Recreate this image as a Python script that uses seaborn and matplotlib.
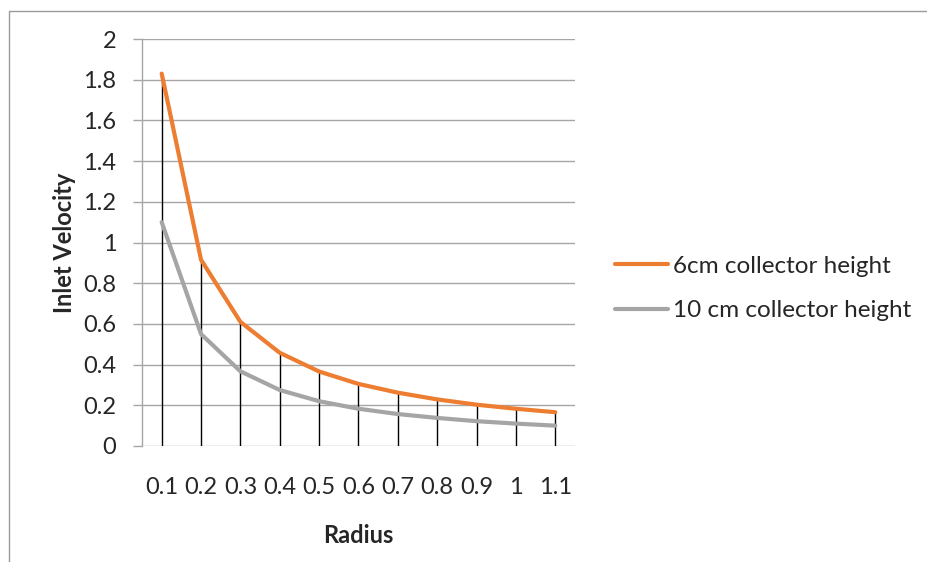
import matplotlib
matplotlib.use("Agg")
import matplotlib.pyplot as plt
import seaborn as sns
import pandas as pd
from matplotlib.patches import Rectangle

radius = [0.1, 0.2, 0.3, 0.4, 0.5, 0.6, 0.7, 0.8, 0.9, 1.0, 1.1]
radius_labels = ["0.1", "0.2", "0.3", "0.4", "0.5", "0.6", "0.7", "0.8", "0.9", "1", "1.1"]
v_6cm = [1.83, 0.915, 0.61, 0.458, 0.366, 0.305, 0.262, 0.229, 0.203, 0.183, 0.166]
v_10cm = [1.10, 0.55, 0.367, 0.275, 0.22, 0.183, 0.157, 0.138, 0.122, 0.11, 0.10]
series_names = ["6cm collector height", "10 cm collector height"]
y_ticks = [0, 0.2, 0.4, 0.6, 0.8, 1, 1.2, 1.4, 1.6, 1.8, 2]
y_tick_labels = ["0", "0.2", "0.4", "0.6", "0.8", "1", "1.2", "1.4", "1.6", "1.8", "2"]

sns.set_style("white")
plt.rcParams["font.family"] = ["Lato", "DejaVu Sans"]

df = pd.DataFrame({
    "Radius": radius * 2,
    "Inlet Velocity": v_6cm + v_10cm,
    "Series": [series_names[0]] * len(radius) + [series_names[1]] * len(radius),
})

FS = 17

fig = plt.figure(figsize=(9.27, 5.62), dpi=100)
ax = fig.add_axes([142 / 927, 1 - 446 / 562, (575 - 142) / 927, (446 - 39) / 562])

# outer chart border
fig.patches.append(Rectangle((9 / 927, -0.2), 1.2, 1 - 11 / 562 + 0.2,
                             transform=fig.transFigure, fill=False,
                             edgecolor="#9a9a9a", linewidth=1.0, clip_on=False))

for yv in y_ticks:
    ax.axhline(yv, color="#a6a6a6", linewidth=1.0, zorder=0)

ax.vlines(radius, 0, v_6cm, color="black", linewidth=1.0, zorder=1)

sns.lineplot(data=df, x="Radius", y="Inlet Velocity", hue="Series",
             palette=["#ED7D31", "#A5A5A5"], linewidth=3, ax=ax, zorder=3,
             legend=True)

ax.set_xlim(0.05, 1.15)
ax.set_ylim(0, 2)
ax.set_xticks(radius)
ax.set_xticklabels(radius_labels, fontsize=FS)
ax.set_yticks(y_ticks)
ax.set_yticklabels(y_tick_labels, fontsize=FS)
ax.tick_params(axis="x", length=0, pad=22)
ax.tick_params(axis="y", length=6.5, color="#a6a6a6", width=1, pad=12, direction="out", left=True)

for s in ["top", "right", "bottom"]:
    ax.spines[s].set_visible(False)
ax.spines["left"].set_color("#a6a6a6")
ax.spines["left"].set_linewidth(1.0)

ax.set_xlabel("Radius", fontsize=FS, fontweight="bold", labelpad=19)
ax.set_ylabel("Inlet Velocity", fontsize=FS, fontweight="bold", labelpad=5)

leg = ax.legend(loc="center left", bbox_to_anchor=(615 / 927, 1 - 288.5 / 562),
                bbox_transform=fig.transFigure, frameon=False, borderpad=0,
                borderaxespad=0, fontsize=17.5, handlelength=2.2,
                handletextpad=0.2, labelspacing=0.95)
for line in leg.get_lines():
    line.set_linewidth(3)

fig.savefig("out.png", dpi=100)
